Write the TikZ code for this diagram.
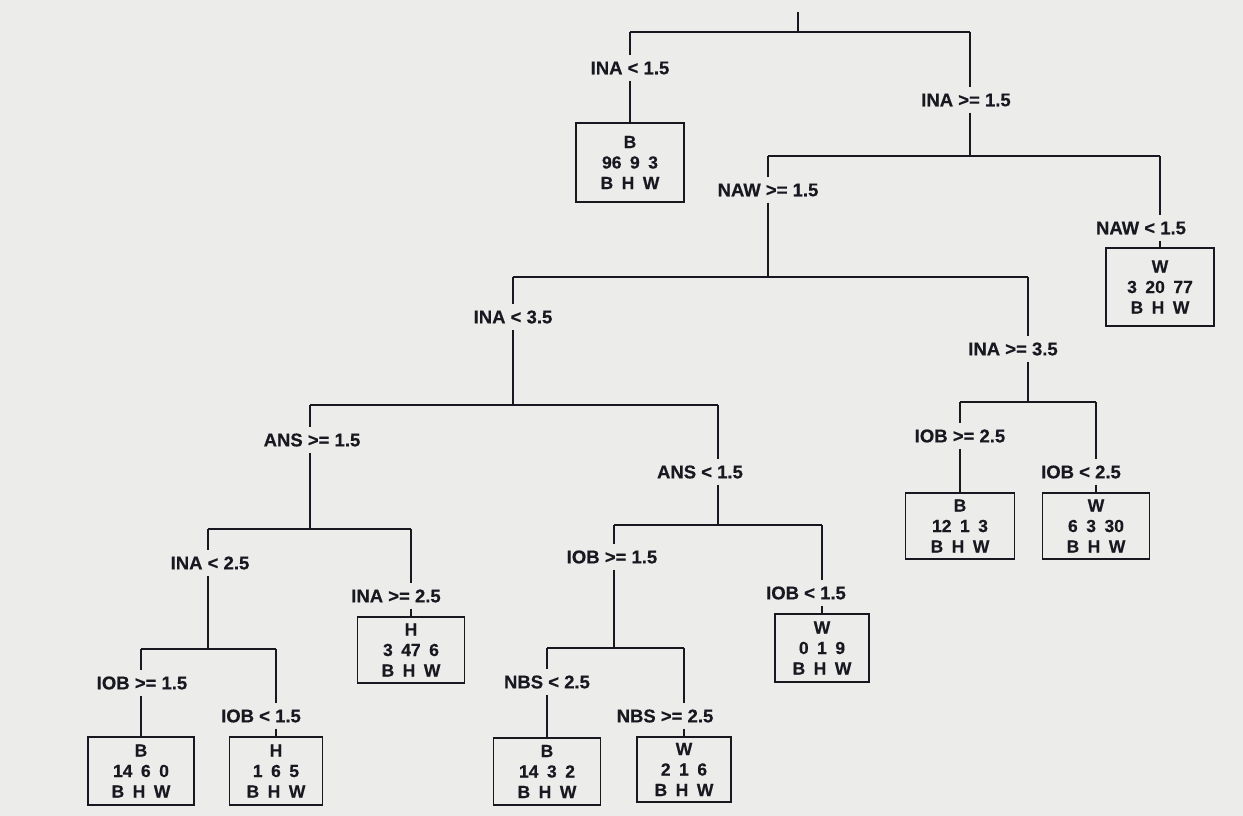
\documentclass[tikz,border=0pt]{standalone}
\usepackage{fontspec}
\setmainfont{Liberation Sans}[BoldFont={Liberation Sans Bold}, BoldFeatures={FakeBold=0.4}]
\definecolor{paper}{RGB}{236,236,234}
\definecolor{ink}{RGB}{24,24,32}
\newcommand\labfont{\fontsize{18.5}{20}\selectfont\bfseries}
\newcommand\leaffont{\fontsize{17.5}{20.5}\selectfont\bfseries\spaceskip=8.5pt\relax}
\tikzset{
  edge/.style={draw=ink, line width=1.8pt},
  lab/.style={text=ink, font=\labfont, inner xsep=2pt, inner ysep=6pt},
  leaf/.style={draw=ink, line width=1.8pt, text=ink, font=\leaffont, align=center, inner sep=0pt}
}
\begin{document}
\begin{tikzpicture}[x=1pt,y=-1pt]
\useasboundingbox (0,0) rectangle (1243,816);
\fill[paper] (0,0) rectangle (1243,816);

% ---- root split
\coordinate (top) at (798,12);
\coordinate (a0) at (630,32);
\coordinate (a1) at (970,32);
\draw[edge] (top) -- (top |- a0);
\draw[edge] (a0) -- (a1);

\node[lab] (l1) at (630,68) {INA < 1.5};
\node[leaf, minimum width=108pt, minimum height=79pt] (b1) at (630,162.5) {B\\96 9 3\\B H W};
\draw[edge] (a0) -- (a0 |- l1.north);
\draw[edge] (a0 |- l1.south) -- (b1.north);

\node[lab] (l2) at (966,100) {INA >= 1.5};
\coordinate (c0) at (768,156);
\coordinate (c1) at (1160,156);
\draw[edge] (a1) -- (a1 |- l2.north);
\draw[edge] (a1 |- l2.south) -- (a1 |- c0);
\draw[edge] (c0) -- (c1);

% ---- NAW split
\node[lab] (l3) at (768,190) {NAW >= 1.5};
\coordinate (d0) at (513,277);
\coordinate (d1) at (1028,277);
\draw[edge] (c0) -- (c0 |- l3.north);
\draw[edge] (c0 |- l3.south) -- (c0 |- d0);
\draw[edge] (d0) -- (d1);

\node[lab] (l4) at (1141,228) {NAW < 1.5};
\node[leaf, minimum width=108pt, minimum height=78pt] (b2) at (1160,287) {W\\3 20 77\\B H W};
\draw[edge] (c1) -- (c1 |- l4.north);
\draw[edge] (c1 |- l4.south) -- (b2.north);

% ---- INA 3.5 split
\node[lab] (l5) at (513,317) {INA < 3.5};
\coordinate (e0) at (310,405);
\coordinate (e1) at (718,405);
\draw[edge] (d0) -- (d0 |- l5.north);
\draw[edge] (d0 |- l5.south) -- (d0 |- e0);
\draw[edge] (e0) -- (e1);

\node[lab] (l6) at (1013,349) {INA >= 3.5};
\coordinate (f0) at (960,402);
\coordinate (f1) at (1096,402);
\draw[edge] (d1) -- (d1 |- l6.north);
\draw[edge] (d1 |- l6.south) -- (d1 |- f0);
\draw[edge] (f0) -- (f1);

% ---- IOB 2.5 split
\node[lab] (l7) at (960,436) {IOB >= 2.5};
\node[leaf, minimum width=109pt, minimum height=66pt] (b3) at (960,526) {B\\12 1 3\\B H W};
\draw[edge] (f0) -- (f0 |- l7.north);
\draw[edge] (f0 |- l7.south) -- (b3.north);

\node[lab] (l8) at (1081,472) {IOB < 2.5};
\node[leaf, minimum width=107pt, minimum height=66pt] (b4) at (1096,526) {W\\6 3 30\\B H W};
\draw[edge] (f1) -- (f1 |- l8.north);
\draw[edge] (f1 |- l8.south) -- (b4.north);

% ---- ANS split
\node[lab] (l9) at (312,440) {ANS >= 1.5};
\coordinate (g0) at (208,529);
\coordinate (g1) at (411,529);
\draw[edge] (e0) -- (e0 |- l9.north);
\draw[edge] (e0 |- l9.south) -- (e0 |- g0);
\draw[edge] (g0) -- (g1);

\node[lab] (l10) at (700,472) {ANS < 1.5};
\coordinate (k0) at (614,525);
\coordinate (k1) at (822,525);
\draw[edge] (e1) -- (e1 |- l10.north);
\draw[edge] (e1 |- l10.south) -- (e1 |- k0);
\draw[edge] (k0) -- (k1);

% ---- INA 2.5 split
\node[lab] (l11) at (210,563) {INA < 2.5};
\coordinate (m0) at (141,649);
\coordinate (m1) at (276,649);
\draw[edge] (g0) -- (g0 |- l11.north);
\draw[edge] (g0 |- l11.south) -- (g0 |- m0);
\draw[edge] (m0) -- (m1);

\node[lab] (l12) at (396,596) {INA >= 2.5};
\node[leaf, minimum width=107pt, minimum height=66pt] (b5) at (411,650) {H\\3 47 6\\B H W};
\draw[edge] (g1) -- (g1 |- l12.north);
\draw[edge] (g1 |- l12.south) -- (b5.north);

% ---- IOB 1.5 split (left)
\node[lab] (l13) at (142,683) {IOB >= 1.5};
\node[leaf, minimum width=106pt, minimum height=68pt] (b7) at (141,771) {B\\14 6 0\\B H W};
\draw[edge] (m0) -- (m0 |- l13.north);
\draw[edge] (m0 |- l13.south) -- (b7.north);

\node[lab] (l14) at (261,716) {IOB < 1.5};
\node[leaf, minimum width=93pt, minimum height=68pt] (b8) at (276,771) {H\\1 6 5\\B H W};
\draw[edge] (m1) -- (m1 |- l14.north);
\draw[edge] (m1 |- l14.south) -- (b8.north);

% ---- IOB 1.5 split (middle)
\node[lab] (l15) at (612,557) {IOB >= 1.5};
\coordinate (n0) at (547,648);
\coordinate (n1) at (684,648);
\draw[edge] (k0) -- (k0 |- l15.north);
\draw[edge] (k0 |- l15.south) -- (k0 |- n0);
\draw[edge] (n0) -- (n1);

\node[lab] (l16) at (806,593) {IOB < 1.5};
\node[leaf, minimum width=94pt, minimum height=68pt] (b6) at (822,648) {W\\0 1 9\\B H W};
\draw[edge] (k1) -- (k1 |- l16.north);
\draw[edge] (k1 |- l16.south) -- (b6.north);

% ---- NBS split
\node[lab] (l17) at (547,682) {NBS < 2.5};
\node[leaf, minimum width=107pt, minimum height=67pt] (b9) at (547,771.5) {B\\14 3 2\\B H W};
\draw[edge] (n0) -- (n0 |- l17.north);
\draw[edge] (n0 |- l17.south) -- (b9.north);

\node[lab] (l18) at (665,716) {NBS >= 2.5};
\node[leaf, minimum width=94pt, minimum height=65pt] (b10) at (684,769.5) {W\\2 1 6\\B H W};
\draw[edge] (n1) -- (n1 |- l18.north);
\draw[edge] (n1 |- l18.south) -- (b10.north);
\end{tikzpicture}
\end{document}
